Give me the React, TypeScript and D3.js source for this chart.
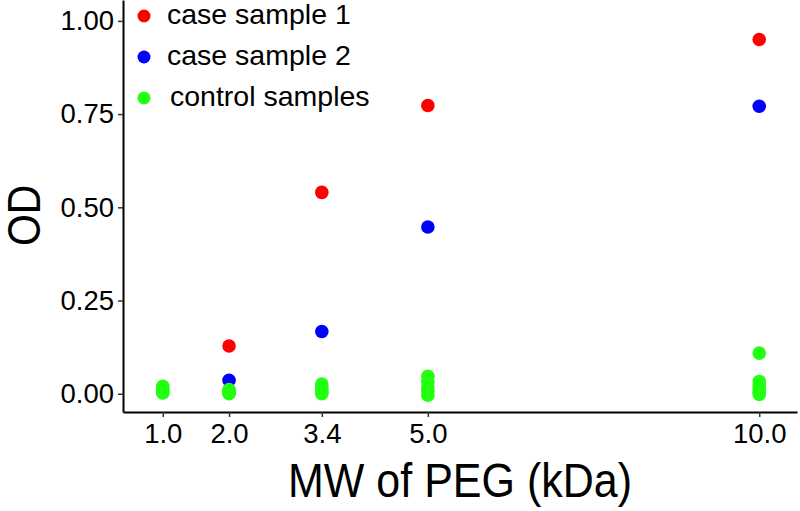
import { useEffect, useRef } from "react";
import * as d3 from "d3";

// MW of PEG (kDa) vs OD
const caseSample1 = [
  { mw: 2.0, od: 0.128 },
  { mw: 3.4, od: 0.54 },
  { mw: 5.0, od: 0.773 },
  { mw: 10.0, od: 0.95 },
];

const caseSample2 = [
  { mw: 2.0, od: 0.036 },
  { mw: 3.4, od: 0.167 },
  { mw: 5.0, od: 0.447 },
  { mw: 10.0, od: 0.771 },
];

const controlSamples = [
  { mw: 1.0, od: 0.02 }, { mw: 1.0, od: 0.014 }, { mw: 1.0, od: 0.009 }, { mw: 1.0, od: 0.005 }, { mw: 1.0, od: 0.002 },
  { mw: 2.0, od: 0.011 }, { mw: 2.0, od: 0.007 }, { mw: 2.0, od: 0.004 }, { mw: 2.0, od: 0.002 }, { mw: 2.0, od: 0.0 },
  { mw: 3.4, od: 0.026 }, { mw: 3.4, od: 0.018 }, { mw: 3.4, od: 0.01 }, { mw: 3.4, od: 0.004 }, { mw: 3.4, od: 0.0 },
  { mw: 5.0, od: 0.047 }, { mw: 5.0, od: 0.032 }, { mw: 5.0, od: 0.018 }, { mw: 5.0, od: 0.008 }, { mw: 5.0, od: -0.004 },
  { mw: 10.0, od: 0.109 }, { mw: 10.0, od: 0.033 }, { mw: 10.0, od: 0.022 }, { mw: 10.0, od: 0.012 }, { mw: 10.0, od: 0.004 }, { mw: 10.0, od: -0.002 },
];

const xTicks = [1.0, 2.0, 3.4, 5.0, 10.0];
const yTicks = [0, 0.25, 0.5, 0.75, 1.0];

const series = [
  { name: "case sample 1", color: "#ff0000", data: caseSample1 },
  { name: "case sample 2", color: "#0000ff", data: caseSample2 },
  { name: "control samples", color: "#22ff11", data: controlSamples },
];

const FONT = "'Liberation Sans', Arial, sans-serif";

export default function App() {
  const ref = useRef<SVGSVGElement | null>(null);

  useEffect(() => {
    if (!ref.current) return;
    const svg = d3.select(ref.current);
    svg.selectAll("*").remove();

    const width = 800;
    const height = 511;
    const plot = { left: 123, right: 797, top: 0, bottom: 412 };

    svg.attr("width", width).attr("height", height);
    svg.append("rect").attr("width", width).attr("height", height).attr("fill", "white");

    const x = d3.scaleLinear().domain([0.4, 10.57]).range([plot.left, plot.right]);
    const y = d3.scaleLinear().domain([-0.049, 1.056]).range([plot.bottom, plot.top]);

    // points
    series.forEach((s) => {
      svg.append("g")
        .selectAll("circle")
        .data(s.data)
        .enter()
        .append("circle")
        .attr("cx", (d) => x(d.mw))
        .attr("cy", (d) => y(d.od))
        .attr("r", 6.8)
        .attr("fill", s.color);
    });

    // axes
    const xAxis = svg.append("g")
      .attr("transform", `translate(0,${plot.bottom})`)
      .call(d3.axisBottom(x).tickValues(xTicks).tickFormat(d3.format(".1f")).tickSize(5).tickSizeOuter(0));

    const yAxis = svg.append("g")
      .attr("transform", `translate(${plot.left},0)`)
      .call(d3.axisLeft(y).tickValues(yTicks).tickFormat(d3.format(".2f")).tickSize(5).tickSizeOuter(0));

    [xAxis, yAxis].forEach((a) => {
      a.select(".domain").attr("stroke", "black").attr("stroke-width", 2);
      a.selectAll(".tick line").attr("stroke", "#333").attr("stroke-width", 1.5);
      a.selectAll("text")
        .attr("fill", "black")
        .attr("font-family", FONT)
        .attr("font-size", 27.5);
    });
    xAxis.selectAll("text").attr("y", 11);
    yAxis.selectAll("text").attr("x", -9);

    // axis titles
    svg.append("text")
      .attr("x", (plot.left + plot.right) / 2)
      .attr("y", 0)
      .attr("transform", `translate(0,497) scale(1,1.12)`)
      .attr("text-anchor", "middle")
      .attr("font-family", FONT)
      .attr("font-size", 43)
      .attr("fill", "black")
      .text("MW of PEG (kDa)");

    svg.append("text")
      .attr("transform", `translate(40,${y(0.5) + 8}) rotate(-90) scale(1,1.12)`)
      .attr("text-anchor", "middle")
      .attr("font-family", FONT)
      .attr("font-size", 41)
      .attr("fill", "black")
      .text("OD");

    // legend
    const legend = svg.append("g");
    const legendY = [16, 57, 98];
    const legendTextX = [167, 167, 170];
    series.forEach((s, i) => {
      legend.append("circle")
        .attr("cx", 144)
        .attr("cy", legendY[i])
        .attr("r", 6.5)
        .attr("fill", s.color);
      legend.append("text")
        .attr("x", legendTextX[i])
        .attr("y", legendY[i] + 8)
        .attr("font-family", FONT)
        .attr("font-size", 28.5)
        .attr("fill", "black")
        .text(s.name);
    });
  }, []);

  return (
    <div style={{ position: "absolute", left: 0, top: 0 }}>
      <svg ref={ref} style={{ display: "block" }} />
    </div>
  );
}
